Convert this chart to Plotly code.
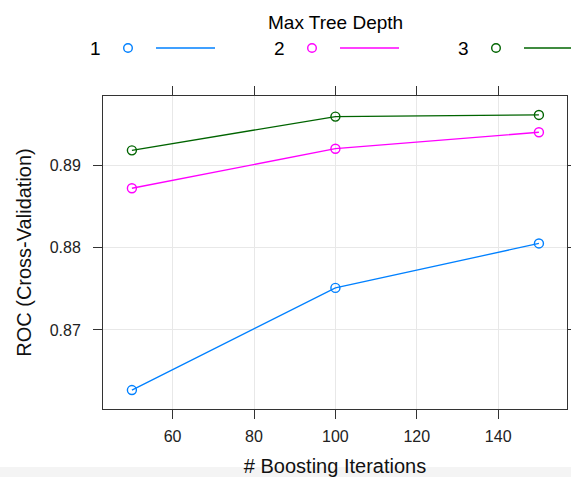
import plotly.graph_objects as go

# ---- data ----
iterations = [50, 100, 150]
depth_labels = ["1", "2", "3"]
roc_depth1 = [0.8627, 0.8751, 0.8805]
roc_depth2 = [0.8872, 0.8920, 0.8940]
roc_depth3 = [0.8918, 0.8959, 0.8961]
x_ticks = [60, 80, 100, 120, 140]
y_ticks = [0.87, 0.88, 0.89]
y_tick_labels = ["0.87", "0.88", "0.89"]

colors = ["#0080ff", "#ff00ff", "#006400"]
series = [roc_depth1, roc_depth2, roc_depth3]

W, H = 571, 477
ML, MR, MT, MB = 103, 4, 96, 68
PW, PH = W - ML - MR, H - MT - MB
FONT = "Liberation Sans, Arial, Helvetica, sans-serif"


def px_x(p):
    return (p - ML) / PW


def px_y(p):
    return 1 - (p - MT) / PH


fig = go.Figure()
for vals, col, name in zip(series, colors, depth_labels):
    fig.add_trace(go.Scatter(
        x=iterations, y=vals, mode="lines+markers", name=name,
        line=dict(color=col, width=1.3),
        marker=dict(symbol="circle-open", size=9, color=col, line=dict(width=1.4, color=col)),
        showlegend=False,
    ))

annotations = [
    dict(text="Max Tree Depth", x=px_x(335), y=px_y(22), xref="paper", yref="paper",
         showarrow=False, font=dict(size=19, color="black", family=FONT),
         xanchor="center", yanchor="middle"),
]
shapes = [
    # faint grey band along the bottom edge of the picture
    dict(type="rect", xref="paper", yref="paper", layer="below",
         x0=px_x(-5), x1=px_x(W + 5), y0=px_y(467), y1=px_y(H + 5),
         fillcolor="#f4f4f4", line=dict(width=0)),
]
for i, (lab, col) in enumerate(zip(depth_labels, colors)):
    off = i * 184
    ly = 48
    annotations.append(dict(text=lab, x=px_x(95 + off), y=px_y(ly), xref="paper", yref="paper",
                            showarrow=False, font=dict(size=19, color="black", family=FONT),
                            xanchor="center", yanchor="middle"))
    shapes.append(dict(type="circle", xref="paper", yref="paper",
                       x0=px_x(128 + off - 4.3), x1=px_x(128 + off + 4.3),
                       y0=px_y(ly + 4.3), y1=px_y(ly - 4.3),
                       line=dict(color=col, width=1.4)))
    shapes.append(dict(type="line", xref="paper", yref="paper",
                       x0=px_x(156 + off), x1=px_x(min(215 + off, 575)),
                       y0=px_y(ly), y1=px_y(ly),
                       line=dict(color=col, width=1.3)))

axis_common = dict(
    showline=True, linecolor="#333333", linewidth=1, mirror="ticks",
    ticks="outside", ticklen=9, tickwidth=1, tickcolor="#333333",
    showgrid=True, gridcolor="#e8e8e8", gridwidth=1, zeroline=False,
    tickfont=dict(size=16, color="#222222", family=FONT),
)

fig.update_layout(
    width=W, height=H,
    margin=dict(l=ML, r=MR, t=MT, b=MB, autoexpand=False),
    paper_bgcolor="white", plot_bgcolor="white",
    font=dict(family=FONT, color="black"),
    xaxis=dict(range=[42.9, 156.9], tickvals=x_ticks,
               title=dict(text="# Boosting Iterations", font=dict(size=20, color="#111111"), standoff=14),
               ticklabelstandoff=4, **axis_common),
    yaxis=dict(range=[0.8604, 0.8984], tickvals=y_ticks, ticktext=y_tick_labels,
               title=dict(text="ROC (Cross-Validation)", font=dict(size=20, color="#111111"), standoff=12),
               ticklabelstandoff=9, **axis_common),
    annotations=annotations, shapes=shapes,
)

fig.write_html("out.html")
